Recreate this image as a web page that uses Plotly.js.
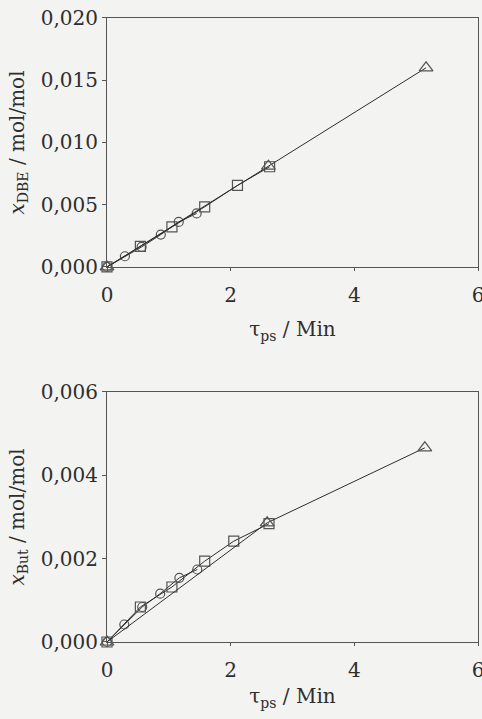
<!DOCTYPE html>
<html>
<head>
<meta charset="utf-8">
<script src="https://cdn.plot.ly/plotly-3.0.1.min.js"></script>
<style>html,body{margin:0;padding:0;background:#f3f3f1;}</style>
</head>
<body>
<div id="chart" style="width:482px;height:719px;"></div>
<script>
// Top panel: x_DBE vs tau_ps
const triX_top = [0, 2.61, 5.16];
const triY_top = [0, 0.0081, 0.0160];
const sqX_top = [0, 0.54, 1.05, 1.58, 2.11, 2.63];
const sqY_top = [0, 0.00166, 0.00322, 0.00483, 0.00655, 0.00805];
const circX_top = [0, 0.29, 0.56, 0.87, 1.16, 1.45];
const circY_top = [0, 0.00086, 0.00161, 0.0026, 0.00362, 0.0043];

// Bottom panel: x_But vs tau_ps
const triX_bot = [0, 2.59, 5.14];
const triY_bot = [0, 0.00286, 0.00466];
const sqX_bot = [0, 0.54, 1.05, 1.58, 2.05, 2.62];
const sqY_bot = [0, 0.00084, 0.00132, 0.00194, 0.00242, 0.00284];
const circX_bot = [0, 0.28, 0.57, 0.86, 1.17, 1.46];
const circY_bot = [0, 0.00042, 0.00084, 0.00116, 0.00154, 0.00174];

const xTicks = [0, 2, 4, 6];
const yTicksTop = [0, 0.005, 0.010, 0.015, 0.020];
const yTicksBot = [0, 0.002, 0.004, 0.006];

const ink = '#2e2e2e';
function series(x, y, sym, size, xa, ya) {
  return {
    x: x, y: y, xaxis: xa, yaxis: ya, type: 'scatter', mode: 'lines+markers',
    cliponaxis: false, showlegend: false,
    line: {color: ink, width: 1},
    marker: {symbol: sym, size: size, color: '#555', line: {color: '#555', width: 1.2}}
  };
}

const data = [
  series(circX_top, circY_top, 'circle-open', 9, 'x', 'y'),
  series(sqX_top, sqY_top, 'square-open', 10, 'x', 'y'),
  series(triX_top, triY_top, 'triangle-up-open', 12, 'x', 'y'),
  series(circX_bot, circY_bot, 'circle-open', 9, 'x2', 'y2'),
  series(sqX_bot, sqY_bot, 'square-open', 10, 'x2', 'y2'),
  series(triX_bot, triY_bot, 'triangle-up-open', 12, 'x2', 'y2')
];

const font = {family: 'DejaVu Serif', size: 20, color: ink};
function xax(anchor, standoff) {
  return {
    anchor: anchor, range: [0, 6], tickvals: xTicks, ticktext: xTicks.map(String),
    showgrid: false, zeroline: false, showline: true, mirror: true,
    linecolor: '#555', linewidth: 1, ticks: 'outside', ticklen: 3, tickcolor: '#555',
    tickfont: font, ticklabeloverflow: 'allow', ticklabelstandoff: 7,
    title: {text: 'τ<sub>ps</sub> / Min', font: font, standoff: standoff}
  };
}
function yax(anchor, dom, rng, tv, label) {
  return {
    anchor: anchor, domain: dom, range: rng, tickvals: tv, tickformat: '.3f',
    showgrid: false, zeroline: false, showline: true, mirror: true,
    linecolor: '#555', linewidth: 1, ticks: 'outside', ticklen: 4, tickcolor: '#555',
    tickfont: font,
    title: {text: label, font: font, standoff: 10}
  };
}

const layout = {
  width: 482, height: 719,
  margin: {l: 107, r: 4, t: 0, b: 0},
  paper_bgcolor: '#f3f3f1', plot_bgcolor: 'rgba(0,0,0,0)',
  separators: ',.',
  font: font,
  xaxis: xax('y', 16),
  yaxis: yax('x', [0.6287, 0.975], [0, 0.020], yTicksTop, '<i>x</i><sub>DBE</sub> / mol/mol'),
  xaxis2: xax('y2', 8),
  yaxis2: yax('x2', [0.1071, 0.4548], [0, 0.006], yTicksBot, '<i>x</i><sub>But</sub> / mol/mol')
};

Plotly.newPlot('chart', data, layout, {staticPlot: true, displayModeBar: false});
</script>
</body>
</html>
